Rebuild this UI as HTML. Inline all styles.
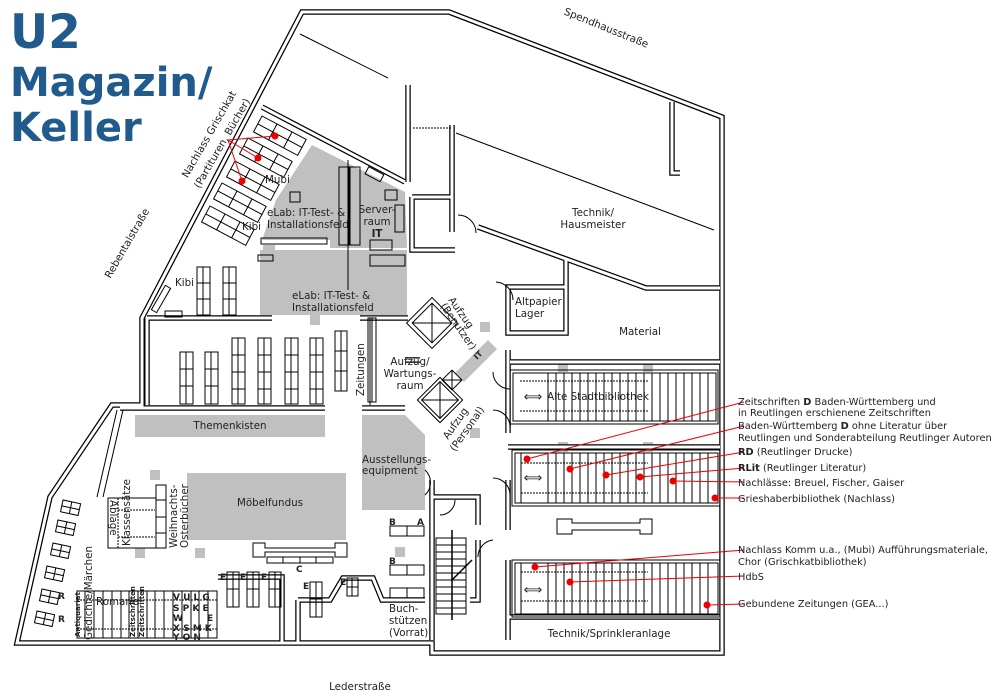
<!DOCTYPE html>
<html><head><meta charset="utf-8"><style>
html,body{margin:0;padding:0;background:#fff}
svg{display:block}
text{font-family:"DejaVu Sans","Liberation Sans",sans-serif;fill:#222}
.t{font-size:10.3px}
.a{font-size:9.8px}
.s{font-size:9px}
.b{font-weight:bold}
.title{font-family:"DejaVu Sans","Liberation Sans",sans-serif;font-weight:bold;fill:#215a8c}
</style></head><body>
<svg width="1000" height="700" viewBox="0 0 1000 700" xmlns="http://www.w3.org/2000/svg">
<defs>
<g id="W" fill="none">
<path d="M302,12 L449,12 L722,117 L722,653 L432,653 L432,643 L17,643 L50,497 L112,405 L142,405 L142,318 Z"/>
<path d="M262,107 L405,182"/>
<path d="M408,85 L408,182"/>
<path d="M452,125 L452,232"/>
<path d="M478,227 L646,288 L720,288"/>
<path d="M672,102 L672,173 L680,173"/>
<path d="M566,260 L566,333 L508,333 L508,287 L566,287"/>
<path d="M412,197 L452,197 M412,197 L412,250 L455,250"/>
<path d="M147,318 L272,318 M147,318 L147,405"/>
<path d="M360,318 L408,318"/>
<path d="M120,408 L325,408 M362,408 L405,408"/>
<path d="M508,350 L508,433 M510,362 L720,362 M508,447 L720,447 M508,480 L508,530 M508,560 L508,640 M508,617 L720,617"/>
<path d="M432,480 L432,640 M432,497 L478,497 L478,525 M470,600 L478,600 L478,540"/>
<path d="M218,577 L282,577 L282,643"/>
<path d="M298,600 L298,643 M298,600 L330,600 L343,578 L373,578 L382,600 L425,600"/>
<path d="M405,360 L420,360"/>
</g>
</defs>

<g fill="#c0c0c0">
<polygon points="312,145 405,192 407,248 330,248 330,240 262,240 276,200"/>
<rect x="260" y="250" width="147" height="65"/>
<rect x="135" y="415" width="190" height="22"/>
<polygon points="362,415 405,415 425,435 425,510 362,510"/>
<rect x="187" y="473" width="159" height="67"/>
<polygon points="455,373 488,340 497,349 464,382"/>
<rect x="310" y="315" width="10" height="10"/>
<rect x="150" y="470" width="10" height="10"/>
<rect x="135" y="548" width="10" height="10"/>
<rect x="195" y="548" width="10" height="10"/>
<rect x="395" y="547" width="10" height="10"/>
<rect x="480" y="322" width="10" height="10"/>
<rect x="470" y="428" width="10" height="10"/>
<rect x="558" y="362" width="10" height="10"/>
<rect x="643" y="362" width="10" height="10"/>
<rect x="558" y="442" width="10" height="10"/>
<rect x="643" y="442" width="10" height="10"/>
<rect x="263" y="245" width="12" height="12"/>
</g>

<g stroke="#000" stroke-width="5.5" stroke-linejoin="miter"><use href="#W"/></g>
<g stroke="#fff" stroke-width="3" stroke-linejoin="miter"><use href="#W"/></g>

<g fill="none" stroke="#000" stroke-width="1">
<path d="M300,34 L388,78"/>
<path d="M413,128 L452,128" stroke-dasharray="2,1"/>
<path d="M456,133 L714,230"/>
<path d="M348,160 L348,290"/>
<path d="M370,318 L370,405"/>
<path d="M458,215 A18,18 0 0 1 476,233 M496,282 A18,18 0 0 1 513,300 M493,372 A17,17 0 0 0 510,389 M493,410 A17,17 0 0 1 510,427 M493,478 A17,17 0 0 1 510,495 M493,540 A17,17 0 0 0 478,557 M425,470 A17,17 0 0 1 425,495 M455,500 A15,15 0 0 1 440,515"/>
<rect x="339" y="167" width="10" height="78"/>
<rect x="350" y="167" width="10" height="78"/>
<rect x="366" y="170" width="17" height="8" transform="rotate(28 374 174)"/>
<rect x="385" y="190" width="12" height="10"/>
<rect x="395" y="205" width="9" height="27"/>
<rect x="370" y="240" width="22" height="10"/>
<rect x="370" y="255" width="35" height="11"/>
<rect x="290" y="192" width="10" height="10"/>
<rect x="261" y="238" width="66" height="6"/>
<rect x="258" y="255" width="15" height="6"/>
<rect x="197" y="267" width="13" height="48"/><path d="M203,267 V315 M197,283 H210 M197,299 H210"/>
<rect x="223" y="267" width="13" height="48"/><path d="M229,267 V315 M223,283 H236 M223,299 H236"/>
<rect x="165" y="311" width="17" height="6"/>
<rect x="158" y="285" width="6" height="28" transform="rotate(30 161 299)"/>
<g>
<rect x="180" y="352" width="13" height="52"/><path d="M186,352 V404 M180,369 H193 M180,386 H193"/>
<rect x="205" y="352" width="13" height="52"/><path d="M211,352 V404 M205,369 H218 M205,386 H218"/>
<rect x="232" y="338" width="13" height="66"/><path d="M238,338 V404 M232,355 H245 M232,372 H245 M232,389 H245"/>
<rect x="258" y="338" width="13" height="66"/><path d="M264,338 V404 M258,355 H271 M258,372 H271 M258,389 H271"/>
<rect x="285" y="338" width="13" height="66"/><path d="M291,338 V404 M285,355 H298 M285,372 H298 M285,389 H298"/>
<rect x="310" y="338" width="13" height="66"/><path d="M316,338 V404 M310,355 H323 M310,372 H323 M310,389 H323"/>
<rect x="335" y="331" width="12" height="60"/><path d="M341,331 V391 M335,351 H347 M335,371 H347"/>
<rect x="368" y="318" width="8" height="84"/><path d="M372,318 V402"/>
</g>
<g transform="translate(262,116) rotate(28)"><rect x="0" y="0" width="50" height="18"/><path d="M0,9 H50 M17,0 V18 M34,0 V18"/></g>
<g transform="translate(248,138) rotate(28)"><rect x="0" y="0" width="50" height="18"/><path d="M0,9 H50 M17,0 V18 M34,0 V18"/></g>
<g transform="translate(235,161) rotate(28)"><rect x="0" y="0" width="50" height="18"/><path d="M0,9 H50 M17,0 V18 M34,0 V18"/></g>
<g transform="translate(222,183) rotate(28)"><rect x="0" y="0" width="50" height="18"/><path d="M0,9 H50 M17,0 V18 M34,0 V18"/></g>
<g transform="translate(210,206) rotate(28)"><rect x="0" y="0" width="50" height="18"/><path d="M0,9 H50 M17,0 V18 M34,0 V18"/></g>
<path d="M117,410 L97,497 M123,410 L103,497"/>
<g transform="translate(63,500) rotate(12)"><rect width="18" height="12"/><path d="M9,0 V12 M0,6 H18"/></g>
<g transform="translate(58,520) rotate(12)"><rect width="18" height="12"/><path d="M9,0 V12 M0,6 H18"/></g>
<g transform="translate(53,543) rotate(12)"><rect width="18" height="12"/><path d="M9,0 V12 M0,6 H18"/></g>
<g transform="translate(47,566) rotate(12)"><rect width="18" height="12"/><path d="M9,0 V12 M0,6 H18"/></g>
<g transform="translate(42,589) rotate(12)"><rect width="18" height="12"/><path d="M9,0 V12 M0,6 H18"/></g>
<g transform="translate(37,611) rotate(12)"><rect width="18" height="12"/><path d="M9,0 V12 M0,6 H18"/></g>
<rect x="108" y="498" width="48" height="50"/>
<path d="M118,498 V548 M118,510 H155 M118,537 H155" stroke-dasharray="2,1"/>
<rect x="156" y="485" width="10" height="63"/><path d="M156,500 H166 M156,517 H166 M156,533 H166"/>
<path d="M253,543 H265 V548 H335 V543 H347 V557 H335 V552 H265 V557 H253 Z"/>
<rect x="267" y="557" width="66" height="6"/><path d="M283,557 V563 M300,557 V563 M316,557 V563"/>
<rect x="390" y="526" width="34" height="10"/><path d="M407,526 V536"/>
<rect x="390" y="565" width="34" height="10"/><path d="M407,565 V575"/>
<rect x="390" y="588" width="34" height="10"/><path d="M407,588 V598"/>
<rect x="227" y="572" width="12" height="35"/><path d="M233,572 V607 M227,589 H239"/>
<rect x="247" y="572" width="12" height="35"/><path d="M253,572 V607 M247,589 H259"/>
<rect x="269" y="572" width="12" height="35"/><path d="M275,572 V607 M269,589 H281"/>
<rect x="310" y="582" width="12" height="35"/><path d="M316,582 V617 M310,599 H322"/>
<rect x="347" y="578" width="11" height="18"/><path d="M352,578 V596 M347,587 H358"/>
<rect x="77" y="591" width="140" height="47"/>
<path d="M85,591V638 M94,591V638 M103,591V638 M112,591V638 M121,591V638 M129,591V638 M138,591V638 M147,591V638 M155,591V638 M164,591V638 M173,591V638 M182,591V638 M191,591V638 M199,591V638 M208,591V638"/>
<path d="M77,600 H217 M77,629 H217" stroke-dasharray="2,1"/>
<g transform="rotate(45 432 323)"><rect x="414" y="305" width="36" height="36"/><rect x="418" y="309" width="28" height="28"/><path d="M418,309 L446,337 M446,309 L418,337"/></g>
<g transform="rotate(45 440 400)"><rect x="424" y="384" width="32" height="32"/><rect x="427" y="387" width="26" height="26"/><path d="M427,387 L453,413 M453,387 L427,413"/></g>
<g transform="rotate(45 452 380)"><rect x="445" y="373" width="14" height="14"/><path d="M445,373 L459,387 M459,373 L445,387"/></g>
<rect x="510" y="370" width="208" height="54"/><rect x="513" y="373" width="203" height="48"/>
<rect x="512" y="450" width="208" height="56"/><rect x="515" y="453" width="203" height="50"/>
<rect x="512" y="560" width="208" height="57"/><rect x="515" y="563" width="203" height="51"/>
<path d="M520,381 H648 M520,411 H648 M521,463 H648 M521,493 H648 M521,572 H648 M521,601 H648" stroke-dasharray="2,1"/>
<path d="M557,505 H572 V509 H640 V505 H652 V520 H640 V516 H572 V520 H557 Z" transform="translate(0,14)"/>
<rect x="436" y="538" width="30" height="76"/>
<path d="M436,545H466 M436,552H466 M436,559H466 M436,566H466 M436,573H466 M436,580H466 M436,587H466 M436,594H466 M436,601H466 M436,608H466"/>
<path d="M452,530 V620 M452,580 L472,560" stroke-width="1.5"/>
</g>
<g stroke="#000" stroke-width="1">
<path d="M548,373V421 M556,373V421 M564,373V421 M572,373V421 M580,373V421 M588,373V421 M596,373V421 M604,373V421 M612,373V421 M620,373V421 M628,373V421 M636,373V421 M644,373V421 M652,373V421 M660,373V421 M668,373V421 M676,373V421 M684,373V421 M692,373V421 M700,373V421 M708,373V421"/>
<path d="M548,453V503 M556,453V503 M564,453V503 M572,453V503 M580,453V503 M588,453V503 M596,453V503 M604,453V503 M612,453V503 M620,453V503 M628,453V503 M636,453V503 M644,453V503 M652,453V503 M660,453V503 M668,453V503 M676,453V503 M684,453V503 M692,453V503 M700,453V503 M708,453V503 M521,453V503"/>
<path d="M548,563V614 M556,563V614 M564,563V614 M572,563V614 M580,563V614 M588,563V614 M596,563V614 M604,563V614 M612,563V614 M620,563V614 M628,563V614 M636,563V614 M644,563V614 M652,563V614 M660,563V614 M668,563V614 M676,563V614 M684,563V614 M692,563V614 M700,563V614 M708,563V614 M521,563V614"/>
</g>
<g font-size="13" text-anchor="middle"><text x="533" y="401">⟺</text><text x="533" y="482">⟺</text><text x="533" y="594">⟺</text></g>

<g stroke="#e00" stroke-width="1" fill="none">
<path d="M228,140 L275,136 M228,140 L258,158 M228,140 L242,181"/>
<path d="M527,459 L744,402 M570,469 L744,426 M606,475 L744,452 M640,477 L744,468 M673,481 L744,482 M715,498 L744,498 M535,567 L744,550 M570,582 L744,576 M707,605 L744,604"/>
</g>
<g fill="#e00">
<circle cx="275" cy="136" r="3.5"/><circle cx="258" cy="158" r="3.5"/><circle cx="242" cy="181" r="3.5"/>
<circle cx="527" cy="459" r="3.5"/><circle cx="570" cy="469" r="3.5"/><circle cx="606" cy="475" r="3.5"/><circle cx="640" cy="477" r="3.5"/><circle cx="673" cy="481" r="3.5"/><circle cx="715" cy="498" r="3.5"/><circle cx="535" cy="567" r="3.5"/><circle cx="570" cy="582" r="3.5"/><circle cx="707" cy="605" r="3.5"/>
</g>

<text class="title" x="10" y="48" font-size="47">U2</text>
<text class="title" x="10" y="96" font-size="40">Magazin/</text>
<text class="title" x="10" y="141" font-size="40">Keller</text>

<g class="t">
<text x="605" y="31" transform="rotate(22 605 31)" text-anchor="middle">Spendhausstraße</text>
<text x="130" y="245" transform="rotate(-60 130 245)" text-anchor="middle">Rebentalstraße</text>
<text x="360" y="690" text-anchor="middle">Lederstraße</text>
<text x="212" y="136" transform="rotate(-60 212 136)" text-anchor="middle">Nachlass Grischkat</text>
<text x="225" y="145" transform="rotate(-60 225 145)" text-anchor="middle">(Partituren, Bücher)</text>
<text x="265" y="183">Mubi</text>
<text x="242" y="230">Kibi</text>
<text x="175" y="286">Kibi</text>
<text x="267" y="216">eLab: IT-Test- &amp;</text>
<text x="267" y="228">Installationsfeld</text>
<text x="292" y="299">eLab: IT-Test- &amp;</text>
<text x="292" y="311">Installationsfeld</text>
<text x="377" y="213" text-anchor="middle">Server-</text>
<text x="377" y="225" text-anchor="middle">raum</text>
<text x="377" y="237" text-anchor="middle" class="b">IT</text>
<text x="593" y="216" text-anchor="middle">Technik/</text>
<text x="593" y="228" text-anchor="middle">Hausmeister</text>
<text x="515" y="305">Altpapier</text>
<text x="515" y="317">Lager</text>
<text x="640" y="335" text-anchor="middle">Material</text>
<text x="448" y="300" transform="rotate(55 448 300)">Aufzug</text>
<text x="440" y="306" transform="rotate(55 440 306)">(Benutzer)</text>
<text x="410" y="365" text-anchor="middle">Aufzug/</text>
<text x="410" y="377" text-anchor="middle">Wartungs-</text>
<text x="410" y="389" text-anchor="middle">raum</text>
<text x="448" y="440" transform="rotate(-55 448 440)">Aufzug</text>
<text x="455" y="452" transform="rotate(-55 455 452)">(Personal)</text>
<text x="364" y="396" transform="rotate(-90 364 396)">Zeitungen</text>
<text x="598" y="400" text-anchor="middle">Alte Stadtbibliothek</text>
<text x="230" y="429" text-anchor="middle">Themenkisten</text>
<text x="362" y="463">Ausstellungs-</text>
<text x="362" y="474">equipment</text>
<text x="270" y="506" text-anchor="middle">Möbelfundus</text>
<text x="389" y="612">Buch-</text>
<text x="389" y="624">stützen</text>
<text x="389" y="636">(Vorrat)</text>
<text x="609" y="637" text-anchor="middle">Technik/Sprinkleranlage</text>
<text x="96" y="605">Romane</text>
<text x="110" y="500" transform="rotate(90 110 500)">Ablage</text>
<text x="130" y="546" transform="rotate(-90 130 546)">Klassensätze</text>
<text x="177" y="548" transform="rotate(-90 177 548)">Weihnachts-</text>
<text x="188" y="548" transform="rotate(-90 188 548)">Osterbücher</text>
<text x="92" y="640" transform="rotate(-90 92 640)">Gedichte/Märchen</text>
</g>
<g class="s b">
<text x="80" y="637" transform="rotate(-90 80 637)" font-size="7">Antiquariat</text>
<text x="135" y="637" transform="rotate(-90 135 637)" font-size="7">Zeitschriften</text>
<text x="144" y="637" transform="rotate(-90 144 637)" font-size="7">Zeitschriften</text>
<text x="173" y="600">V U L G</text>
<text x="173" y="611">S P K E</text>
<text x="173" y="621">W</text>
<text x="173" y="631">X S M K</text>
<text x="173" y="640">Y O N</text>
<text x="207" y="621">E</text>
<text x="220" y="580">E</text><text x="240" y="580">E</text><text x="261" y="580">E</text>
<text x="303" y="589">E</text><text x="340" y="585">E</text>
<text x="296" y="572">C</text>
<text x="389" y="525">B</text><text x="417" y="525">A</text><text x="389" y="564">B</text>
<text x="58" y="599">R</text><text x="58" y="622">R</text>
</g>
<g class="a">
<text x="738" y="405">Zeitschriften <tspan class="b">D</tspan> Baden-Württemberg und</text>
<text x="738" y="416">in Reutlingen erschienene Zeitschriften</text>
<text x="738" y="429">Baden-Württemberg <tspan class="b">D</tspan> ohne Literatur über</text>
<text x="738" y="441">Reutlingen und Sonderabteilung Reutlinger Autoren</text>
<text x="738" y="455"><tspan class="b">RD</tspan> (Reutlinger Drucke)</text>
<text x="738" y="471"><tspan class="b">RLit</tspan> (Reutlinger Literatur)</text>
<text x="738" y="486">Nachlässe: Breuel, Fischer, Gaiser</text>
<text x="738" y="502">Grieshaberbibliothek (Nachlass)</text>
<text x="738" y="553">Nachlass Komm u.a., (Mubi) Aufführungsmateriale,</text>
<text x="738" y="565">Chor (Grischkatbibliothek)</text>
<text x="738" y="580">HdbS</text>
<text x="738" y="607">Gebundene Zeitungen (GEA...)</text>
</g>
<text x="477" y="360" transform="rotate(-45 477 360)" font-size="8" font-weight="bold">IT</text>
</svg>
</body></html>
